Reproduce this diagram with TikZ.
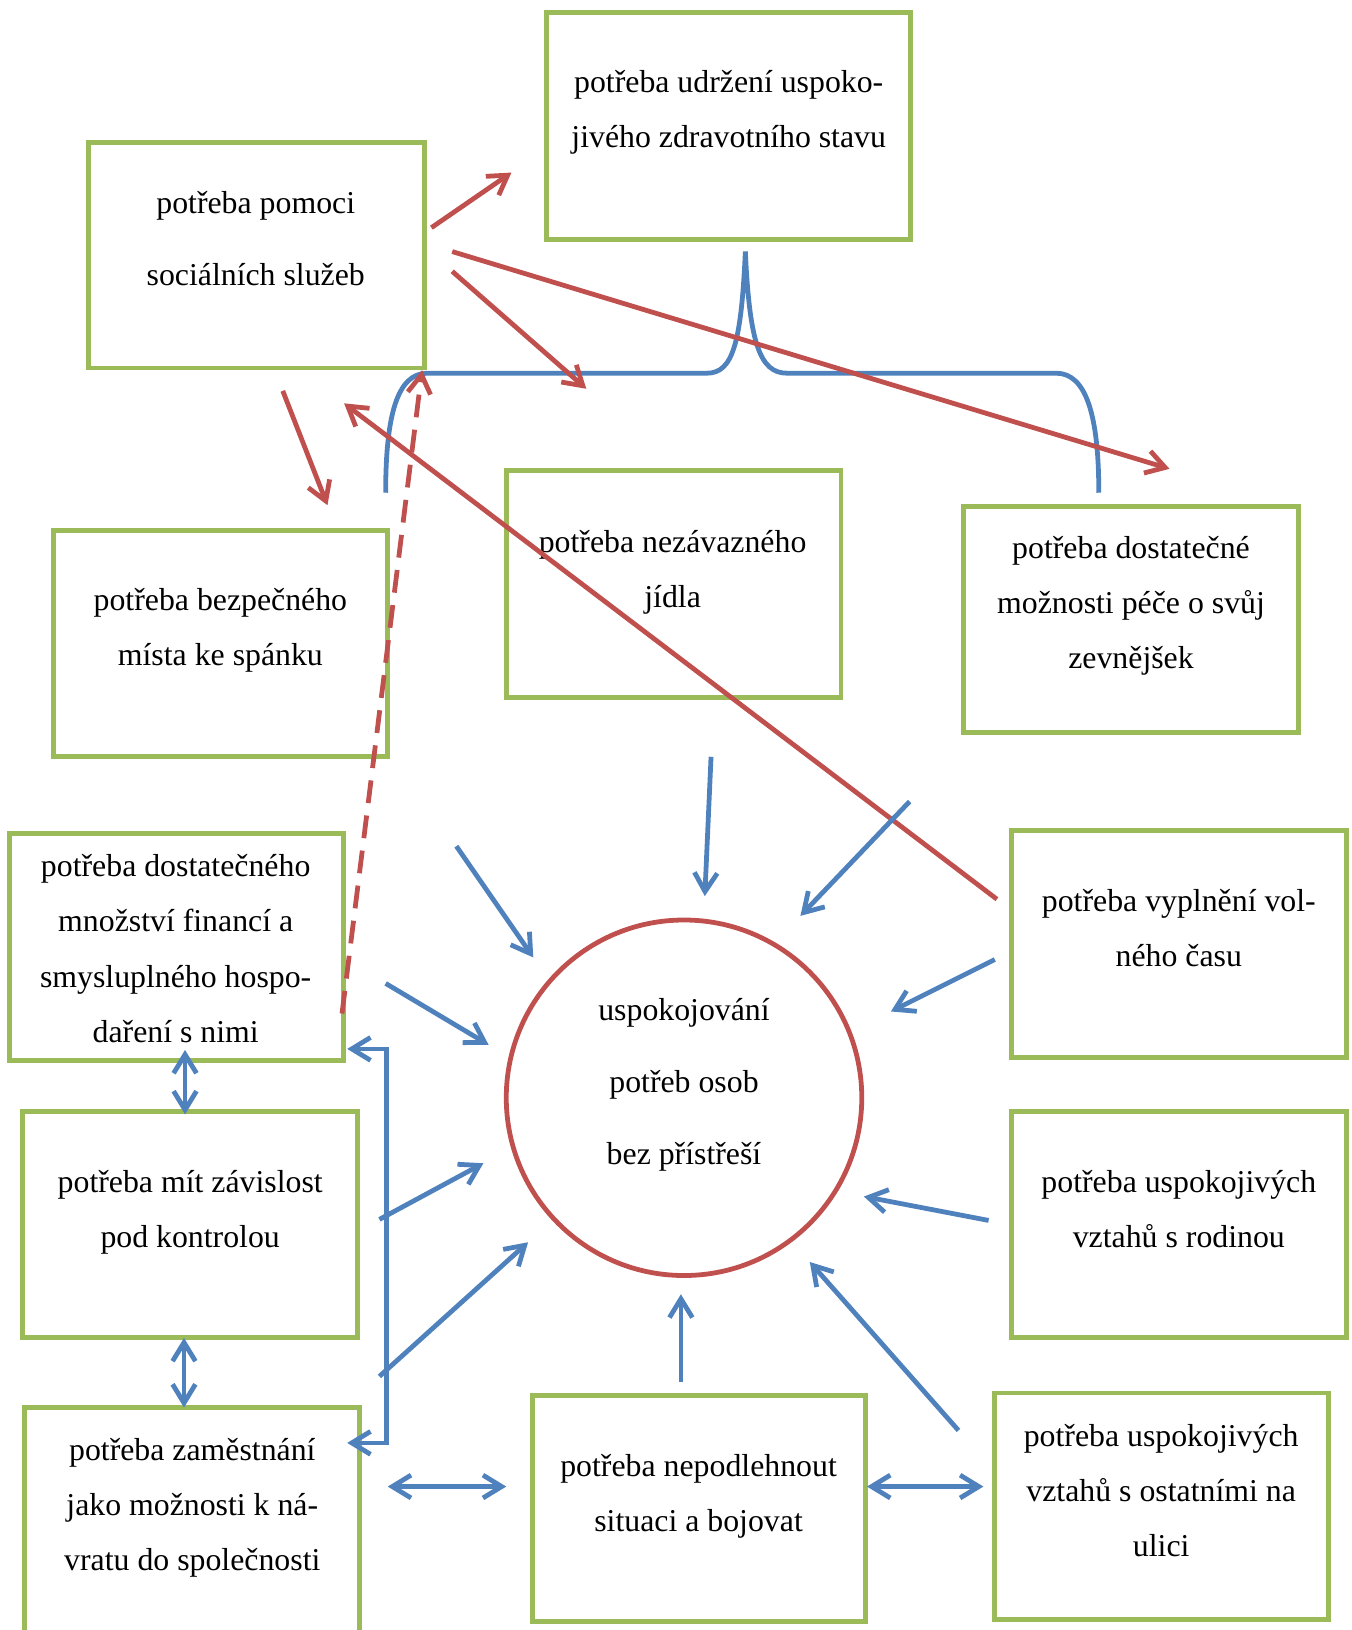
\documentclass[tikz,border=0pt]{standalone}
\usepackage{fontspec}
\setmainfont{Liberation Serif}
\usetikzlibrary{arrows.meta,fit}
\definecolor{boxgreen}{HTML}{9BBB59}
\definecolor{lred}{HTML}{C0504D}
\definecolor{lblue}{HTML}{4F81BD}
\begin{document}
\begin{tikzpicture}[x=0.5pt,y=-0.5pt,
  box/.style={draw=boxgreen,line width=2.4pt,inner sep=0pt,rectangle},
  txt/.style={align=center,inner sep=0pt,font=\fontsize{15.3}{26.5}\selectfont},
  redarr/.style={draw=lred,line width=2.3pt,-{Straight Barb[length=9pt,width=11pt]}},
  bluearr/.style={draw=lblue,line width=2.3pt,-{Straight Barb[length=9pt,width=11pt]}},
  bluedbl/.style={draw=lblue,line width=2.3pt,{Straight Barb[length=9pt,width=11pt]}-{Straight Barb[length=9pt,width=11pt]}},
  bracepath/.style={draw=lblue,line width=2.3pt}]
\useasboundingbox (0,0) rectangle (1300,1568);

% boxes
\node[box,fit={(526,12) (876,230)}] (b1) {};
\node[box,fit={(85,137) (408,354)}] (b2) {};
\node[box,fit={(51,510) (373,728)}] (b3) {};
\node[box,fit={(487,453) (809,671)}] (b4) {};
\node[box,fit={(927,487) (1249,705)}] (b5) {};
\node[box,fit={(9,802) (330,1020)}] (b6) {};
\node[box,fit={(22,1069) (344,1287)}] (b7) {};
\node[box,fit={(24,1354) (346,1600)}] (b8) {};
\node[box,fit={(512,1342) (833,1560)}] (b9) {};
\node[box,fit={(957,1340) (1278,1558)}] (b10) {};
\node[box,fit={(973,1069) (1295,1287)}] (b11) {};
\node[box,fit={(973,799) (1295,1017)}] (b12) {};
\node[draw=lred,line width=2.3pt,circle,minimum size=171pt,inner sep=0pt] (c) at (658,1056) {};

% texts
\node[txt] (t1) at (701,104.4) {\strut potřeba udržení uspoko-\\jivého zdravotního stavu\strut};
\node[txt] (t2) at (246,229.4) {\strut potřeba pomoci\\[8pt]sociálních služeb\strut};
\node[txt] (t3) at (212,603.4) {\strut potřeba bezpečného\\místa ke spánku\strut};
\node[txt] (t4) at (647,547.4) {\strut potřeba nezávazného\\jídla\strut};
\node[txt] (t5) at (1088,579.9) {\strut potřeba dostatečné\\možnosti péče o svůj\\zevnějšek\strut};
\node[txt] (t6) at (169,912.4) {\strut potřeba dostatečného\\množství financí a\\smysluplného hospo-\\daření s nimi\strut};
\node[txt] (t7) at (183,1162.9) {\strut potřeba mít závislost\\pod kontrolou\strut};
\node[txt] (t8) at (185,1447.4) {\strut potřeba zaměstnání\\jako možnosti k ná-\\vratu do společnosti\strut};
\node[txt] (t9) at (672,1436.4) {\strut potřeba nepodlehnout\\situaci a bojovat\strut};
\node[txt] (t10) at (1117,1433.9) {\strut potřeba uspokojivých\\vztahů s ostatními na\\ulici\strut};
\node[txt] (t11) at (1134,1162.9) {\strut potřeba uspokojivých\\vztahů s rodinou\strut};
\node[txt] (t12) at (1134,892.4) {\strut potřeba vyplnění vol-\\ného času\strut};
\node[txt] (tc) at (658,1040.4) {\strut uspokojování\\[8pt]potřeb osob\\[8pt]bez přístřeší\strut};

% brace
\coordinate (brL) at (371,474);
\coordinate (brR) at (1057,474);
\coordinate (brP) at (717,242);
\draw[bracepath] (brL) .. controls (371,400) and (382,359) .. (411,359)
  -- (680,359) .. controls (705,359) and (713,330) .. (brP)
  .. controls (721,330) and (731,359) .. (757,359)
  -- (1016,359) .. controls (1045,359) and (1057,400) .. (brR);

% red arrows
\coordinate (r1s) at (415,219); \coordinate (r1e) at (492,166);
\coordinate (r2s) at (435,261); \coordinate (r2e) at (564,374);
\coordinate (r3s) at (435,242); \coordinate (r3e) at (1125,451);
\coordinate (r4s) at (272,376); \coordinate (r4e) at (315,486);
\coordinate (r5s) at (959,865); \coordinate (r5e) at (331,388);
\coordinate (r6s) at (329,975); \coordinate (r6e) at (406,356);
\draw[redarr] (r1s) -- (r1e);
\draw[redarr] (r2s) -- (r2e);
\draw[redarr] (r3s) -- (r3e);
\draw[redarr] (r4s) -- (r4e);
\draw[redarr] (r5s) -- (r5e);
\draw[redarr,dash pattern=on 11pt off 6pt] (r6s) -- (r6e);

% blue arrows towards the circle
\coordinate (a1s) at (439,814); \coordinate (a1e) at (513,921);
\coordinate (a2s) at (684,728); \coordinate (a2e) at (678,862);
\coordinate (a3s) at (875,771); \coordinate (a3e) at (770,881);
\coordinate (a4s) at (957,923); \coordinate (a4e) at (857,973);
\coordinate (a5s) at (371,946); \coordinate (a5e) at (470,1005);
\coordinate (a6s) at (365,1173); \coordinate (a6e) at (465,1119);
\coordinate (a7s) at (365,1324); \coordinate (a7e) at (508,1195);
\coordinate (a8s) at (655,1329); \coordinate (a8e) at (655,1245);
\coordinate (a9s) at (951,1174); \coordinate (a9e) at (831,1151);
\coordinate (a10s) at (922,1376); \coordinate (a10e) at (779,1214);
\foreach \i in {1,...,10} {\draw[bluearr] (a\i s) -- (a\i e);}

% double arrows
\coordinate (d1s) at (178,1010); \coordinate (d1e) at (178,1072);
\coordinate (d2s) at (177,1287); \coordinate (d2e) at (177,1354);
\coordinate (d3s) at (373,1430); \coordinate (d3e) at (487,1430);
\coordinate (d4s) at (834,1430); \coordinate (d4e) at (946,1430);
\foreach \i in {1,...,4} {\draw[bluedbl] (d\i s) -- (d\i e);}

% bracket connector between b6 and b8
\coordinate (k1) at (334,1009);
\coordinate (k2) at (372,1009);
\coordinate (k3) at (372,1388);
\coordinate (k4) at (334,1388);
\draw[bluedbl] (k1) -- (k2) -- (k3) -- (k4);
\end{tikzpicture}
\end{document}
